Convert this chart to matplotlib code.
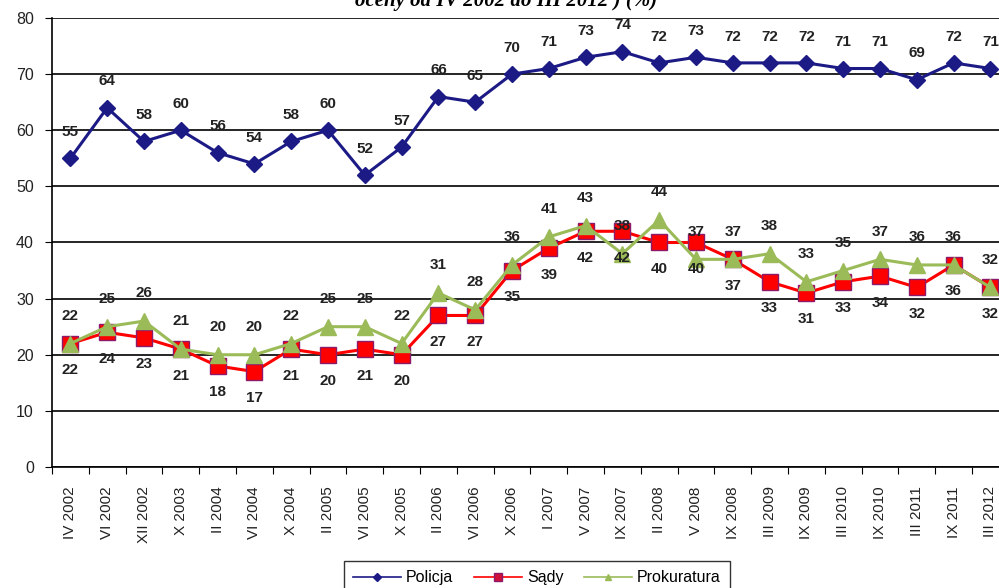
import numpy as np
import matplotlib.pyplot as plt
from matplotlib.lines import Line2D

labels = ["IV 2002", "VI 2002", "XII 2002", "X 2003", "II 2004", "VI 2004", "X 2004",
          "II 2005", "VI 2005", "X 2005", "II 2006", "VI 2006", "X 2006", "I 2007",
          "V 2007", "IX 2007", "II 2008", "V 2008", "IX 2008", "III 2009", "IX 2009",
          "III 2010", "IX 2010", "III 2011", "IX 2011", "III 2012"]
policja = [55, 64, 58, 60, 56, 54, 58, 60, 52, 57, 66, 65, 70, 71, 73, 74, 72, 73, 72,
           72, 72, 71, 71, 69, 72, 71]
sady = [22, 24, 23, 21, 18, 17, 21, 20, 21, 20, 27, 27, 35, 39, 42, 42, 40, 40, 37,
        33, 31, 33, 34, 32, 36, 32]
prokuratura = [22, 25, 26, 21, 20, 20, 22, 25, 25, 22, 31, 28, 36, 41, 43, 38, 44, 37,
               37, 38, 33, 35, 37, 36, 36, 32]

plt.rcParams['font.family'] = ['Liberation Sans', 'DejaVu Sans']

fig = plt.figure(figsize=(9.99, 5.88), dpi=100)
W, H = 999, 588
ax = fig.add_axes([52 / W, (H - 467) / H, 26 * 36.8 / W, (467 - 18) / H])

x = np.arange(len(labels))
c_pol, c_sad, c_pro = '#1c1a85', '#ff0000', '#9bbb59'

ax.plot(x, policja, color=c_pol, lw=2.2, marker='D', ms=8, mfc=c_pol, mec=c_pol, zorder=3)
ax.plot(x, sady, color=c_sad, lw=2.2, marker='s', ms=11, mfc=c_sad, mec='#8b1a6b', mew=1, zorder=4)
ax.plot(x, prokuratura, color=c_pro, lw=2.2, marker='^', ms=11, mfc=c_pro, mec=c_pro, zorder=5)

lab_kw = dict(textcoords='offset points', ha='center', va='center', fontsize=11,
              fontweight='bold', color='#222222', zorder=6)
for i in x:
    ax.annotate(str(policja[i]), (i, policja[i]), xytext=(0, 19), **lab_kw)
    ax.annotate(str(sady[i]), (i, sady[i]), xytext=(0, -19), **lab_kw)
    ax.annotate(str(prokuratura[i]), (i, prokuratura[i]), xytext=(0, 20), **lab_kw)

ax.set_xlim(-0.5, len(labels) - 0.5)
ax.set_ylim(0, 80)
ax.set_yticks(np.arange(0, 81, 10))
ax.yaxis.grid(True, color='black', lw=1.2)
ax.set_axisbelow(True)
ax.tick_params(axis='y', labelsize=11.5, length=5, color='black', pad=8, labelcolor='#222222')

ax.set_xticks(np.arange(-0.5, len(labels), 1))
ax.set_xticklabels([])
ax.tick_params(axis='x', which='major', length=5, color='black')
ax.set_xticks(x, minor=True)
ax.set_xticklabels(labels, minor=True, rotation=90, fontsize=11)
ax.tick_params(axis='x', which='minor', length=0, pad=14, labelcolor='#222222')

for s in ['top', 'right']:
    ax.spines[s].set_visible(False)
ax.spines['left'].set_linewidth(1.2)
ax.spines['bottom'].set_linewidth(1.2)

fig.text(0.507, (H - 6) / H, "oceny od IV 2002 do III 2012 ) (%)", ha='center', va='baseline',
         fontsize=15, fontweight='bold', style='italic', family='Liberation Serif')

handles = [
    Line2D([], [], color=c_pol, lw=1.2, marker='D', ms=4, mfc=c_pol, mec=c_pol),
    Line2D([], [], color=c_sad, lw=1.2, marker='s', ms=6, mfc='#d0103a', mec='#8b1a6b'),
    Line2D([], [], color=c_pro, lw=1.2, marker='^', ms=5, mfc=c_pro, mec=c_pro),
]
leg = fig.legend(handles, ["Policja", "Sądy", "Prokuratura"], loc='lower center',
                 bbox_to_anchor=(537 / W, -0.025), ncol=3, fontsize=11.5, frameon=True,
                 fancybox=False, edgecolor='black', handlelength=3, columnspacing=1.3,
                 handletextpad=0.3, borderpad=0.6)
leg.get_frame().set_linewidth(1.0)

fig.savefig('out.png', dpi=100)
